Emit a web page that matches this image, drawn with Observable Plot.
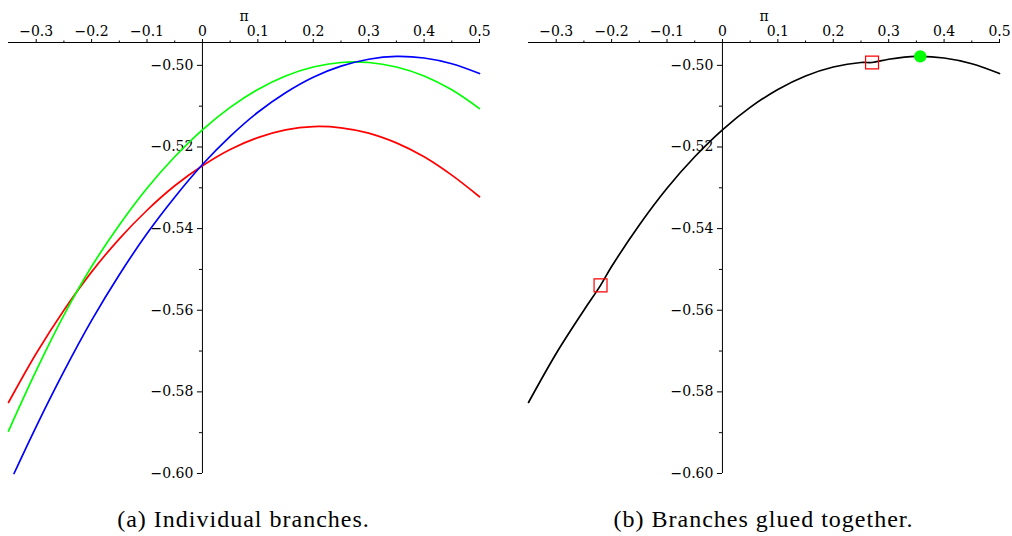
<!DOCTYPE html>
<html><head><meta charset="utf-8">
<script src="https://cdn.jsdelivr.net/npm/d3@7"></script>
<script src="https://cdn.jsdelivr.net/npm/@observablehq/plot@0.6"></script>
<style>
body{margin:0;background:#fff;}
#wrap{display:flex;width:1012px;height:536px;}
.panel{width:506px;height:536px;position:relative;}
.cap{position:absolute;top:507px;line-height:24px;font-family:"Liberation Serif",serif;font-size:24px;letter-spacing:1px;color:#000;white-space:nowrap;transform:translateX(-50%);}
</style></head><body>
<div id="wrap"><div class="panel" id="pa"></div><div class="panel" id="pb"></div></div>
<script>
// ---- data ----
const xs = [-0.35,-0.30,-0.25,-0.20,-0.15,-0.10,-0.05,0,0.05,0.10,0.15,0.20,0.25,0.30,0.35,0.40,0.45,0.50];
const redY = [-0.5826,-0.5706,-0.5600,-0.5506,-0.5425,-0.5355,-0.5295,-0.5246,-0.5206,-0.5177,-0.5158,-0.5150,-0.5153,-0.5166,-0.5190,-0.5224,-0.5269,-0.5322];
const greenY = [-0.5896,-0.5748,-0.5612,-0.5493,-0.5391,-0.5301,-0.5224,-0.5158,-0.5103,-0.5059,-0.5026,-0.5004,-0.4993,-0.4993,-0.5004,-0.5026,-0.5060,-0.5106];
const blueX = [-0.34,-0.30,-0.25,-0.20,-0.15,-0.10,-0.05,0,0.05,0.10,0.15,0.20,0.25,0.30,0.35,0.40,0.45,0.50];
const blueY = [-0.6000,-0.5885,-0.5750,-0.5625,-0.5513,-0.5412,-0.5323,-0.5243,-0.5174,-0.5115,-0.5067,-0.5029,-0.5002,-0.4985,-0.4978,-0.4982,-0.4996,-0.5020];
const glueX = [-0.22, 0.27];
const glueY = [-0.5539, -0.4993];
const maxX = [0.357];
const maxY = [-0.4978];
const xMajor = [-0.3,-0.2,-0.1,0,0.1,0.2,0.3,0.4,0.5];
const xMinor = [-0.25,-0.15,-0.05,0.05,0.15,0.25,0.35,0.45];
const yMajor = [-0.60,-0.58,-0.56,-0.54,-0.52,-0.50];
const yMinor = [-0.59,-0.57,-0.55,-0.53,-0.51];
const xDomain = [-0.35, 0.5];
const yDomain = [-0.60, -0.4944];
const xLabel = "π";
const captions = ["(a) Individual branches.", "(b) Branches glued together."];

// ---- tables ----
const red = xs.map((x,i)=>({x, y:redY[i]}));
const green = xs.map((x,i)=>({x, y:greenY[i]}));
const blue = blueX.map((x,i)=>({x, y:blueY[i]}));
const glue = glueX.map((x,i)=>({x, y:glueY[i]}));
const maxPt = maxX.map((x,i)=>({x, y:maxY[i]}));
const glued = [
  ...red.filter(d=>d.x < glueX[0]), glue[0],
  ...green.filter(d=>d.x > glueX[0] && d.x < glueX[1]), glue[1],
  ...blue.filter(d=>d.x > glueX[1])
];

const fmtX = d => d === 0 ? "0" : d3.format(".1f")(d);
const fmtY = d3.format(".2f");

function axes(){
  return [
    Plot.ruleY([yDomain[1]], {stroke:"#000", strokeWidth:1}),
    Plot.ruleX([0], {stroke:"#000", strokeWidth:1}),
    Plot.axisX(xMajor, {anchor:"top", tickSize:4, tickPadding:3, tickFormat:fmtX, label:null}),
    Plot.axisX(xMinor, {anchor:"top", tickSize:2.5, tickFormat:()=>"", label:null}),
    Plot.ruleY(yMajor, {x1:0, x2:0, insetLeft:-5, stroke:"#000"}),
    Plot.ruleY(yMinor, {x1:0, x2:0, insetLeft:-3, stroke:"#000"}),
    Plot.text(yMajor, {x:0, y:d=>d, text:fmtY, textAnchor:"end", dx:-9}),
    Plot.text([xLabel], {frameAnchor:"top", dy:-31, text:d=>d})
  ];
}

function panel(marks, ml, mr){
  return Plot.plot({
    width:506, height:490, marginTop:42, marginBottom:17, marginLeft:ml, marginRight:mr,
    x:{domain:xDomain}, y:{domain:yDomain, axis:null},
    style:{fontFamily:"'DejaVu Serif', serif", fontSize:"14px", color:"#000", background:"white", overflow:"visible"},
    marks:[...axes(), ...marks]
  });
}

const A = panel([
  Plot.line(red, {x:"x", y:"y", stroke:"#ff0000", strokeWidth:1.7, curve:"catmull-rom"}),
  Plot.line(green, {x:"x", y:"y", stroke:"#00ff00", strokeWidth:1.7, curve:"catmull-rom"}),
  Plot.line(blue, {x:"x", y:"y", stroke:"#0000ff", strokeWidth:1.7, curve:"catmull-rom"})
], 8, 27);
const B = panel([
  Plot.line(glued, {x:"x", y:"y", stroke:"#000", strokeWidth:1.7, curve:"catmull-rom"}),
  Plot.dot(glue, {x:"x", y:"y", symbol:"square", r:7.3, stroke:"#ff0000", strokeWidth:1.2, fill:"none"}),
  Plot.dot(maxPt, {x:"x", y:"y", r:6.2, fill:"#00ff00", stroke:"none"})
], 22, 13);

document.getElementById("pa").appendChild(A);
document.getElementById("pb").appendChild(B);
[["pa", 8+235.5],["pb", 22+235.5]].forEach(([id,cx],i)=>{
  const c = document.createElement("div");
  c.className = "cap"; c.style.left = cx + "px"; c.textContent = captions[i];
  document.getElementById(id).appendChild(c);
});
</script>
</body></html>
